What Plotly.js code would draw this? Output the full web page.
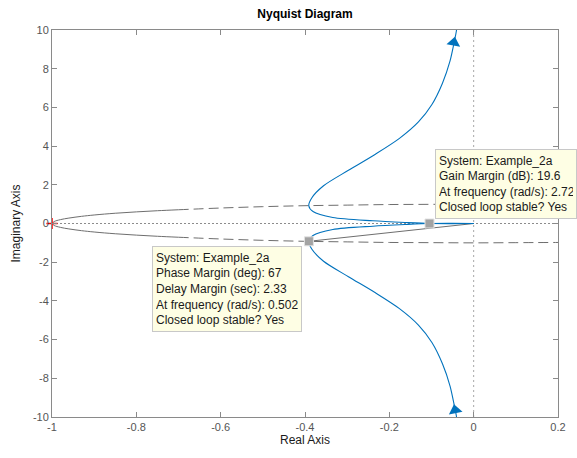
<!DOCTYPE html>
<html>
<head>
<meta charset="utf-8">
<script src="https://cdn.plot.ly/plotly-3.0.1.min.js"></script>
<style>
  html, body { margin: 0; padding: 0; background: #fff; }
  #plot { width: 577px; height: 458px; }
</style>
</head>
<body>
<div id="plot"></div>
<script>
// Open-loop response G(jw) for positive frequencies:
// starts at the bottom (w -> 0+) and ends at the origin (w -> inf).
const nyqRe = [-0.039, -0.041, -0.045, -0.056, -0.074, -0.099, -0.131, -0.176, -0.234, -0.297,
               -0.356, -0.384, -0.391, -0.381, -0.334, -0.239, -0.160, -0.105, -0.050, 0];
const nyqIm = [-10.3, -9.95, -9.5, -8.4, -7.25, -6.15, -5.25, -4.4, -3.57, -2.75,
               -1.95, -1.32, -0.92, -0.62, -0.31, -0.14, -0.05, 0, 0.006, 0];

// Direction arrows on the two branches (position and heading in degrees)
const arrowRe = [-0.047, -0.044];
const arrowIm = [9.35, -9.65];
const arrowAngle = [10, -11];

// Stability margins
const systemName = 'Example_2a';
const gainMarginDb = 19.6;
const gainFreq = 2.72;
const phaseMarginDeg = 67;
const delayMarginSec = 2.33;
const phaseFreq = 0.502;

// Unit circle, upper half (the lower half is its mirror image)
const circRe = [-1, -0.995, -0.98, -0.96, -0.93, -0.9, -0.85, -0.8, -0.75, -0.7,
                -0.6, -0.5, -0.4, -0.3, -0.2, -0.1, 0, 0.1, 0.2];
const circIm = [0, 0.10, 0.20, 0.28, 0.37, 0.44, 0.53, 0.60, 0.66, 0.71,
                0.80, 0.87, 0.92, 0.95, 0.98, 0.99, 1, 0.99, 0.98];
const circSolidEnd = -0.7;   // circle is solid up to here, dashed after

// Axis ticks
const xTicks = [-1, -0.8, -0.6, -0.4, -0.2, 0, 0.2];
const xTickText = ['-1', '-0.8', '-0.6', '-0.4', '-0.2', '0', '0.2'];
const yTicks = [-10, -8, -6, -4, -2, 0, 2, 4, 6, 8, 10];
const yTickText = ['-10', '-8', '-6', '-4', '-2', '0', '2', '4', '6', '8', '10'];

const FONT = 'Liberation Sans, Arial, Helvetica, sans-serif';
const BLUE = '#0072BD';
const GRAY = '#6e6e6e';

// Margin points from the stated margins
const gmX = -Math.pow(10, -gainMarginDb / 20);
const pmAng = (-180 + phaseMarginDeg) * Math.PI / 180;
const pmX = Math.cos(pmAng), pmY = Math.sin(pmAng);

// Split unit circle into solid and dashed parts
const solidIdx = circRe.map((v, i) => i).filter(i => circRe[i] <= circSolidEnd);
const dashIdx = circRe.map((v, i) => i).filter(i => circRe[i] >= circSolidEnd);
const pick = (arr, idx, sgn) => idx.map(i => sgn * arr[i]);

const lower = (idx) => ({ x: pick(circRe, idx, 1), y: pick(circIm, idx, -1) });
const upper = (idx) => ({ x: pick(circRe, idx, 1), y: pick(circIm, idx, 1) });

const traces = [];

// Real and imaginary axes (dotted)
traces.push({ x: [-1, 0.2], y: [0, 0], mode: 'lines',
  line: { color: '#8c8c8c', width: 1, dash: '2px,2px' }, hoverinfo: 'skip' });
traces.push({ x: [0, 0], y: [-10, 10], mode: 'lines',
  line: { color: '#a8a8a8', width: 1, dash: '2px,3px' }, hoverinfo: 'skip' });

// Unit circle
[upper(solidIdx), lower(solidIdx)].forEach(p => traces.push({
  x: p.x, y: p.y, mode: 'lines', line: { color: GRAY, width: 1, shape: 'spline' }, hoverinfo: 'skip' }));
[upper(dashIdx), lower(dashIdx)].forEach(p => traces.push({
  x: p.x, y: p.y, mode: 'lines', line: { color: GRAY, width: 1, shape: 'spline', dash: '10px,5px' }, hoverinfo: 'skip' }));

// Phase margin line from the origin
traces.push({ x: [0, pmX], y: [0, pmY], mode: 'lines',
  line: { color: GRAY, width: 1 }, hoverinfo: 'skip' });

// Nyquist curve: positive and negative frequencies
traces.push({ x: nyqRe, y: nyqIm, mode: 'lines',
  line: { color: BLUE, width: 1.1, shape: 'spline', smoothing: 0.8 } });
traces.push({ x: nyqRe.slice(), y: nyqIm.map(v => -v), mode: 'lines',
  line: { color: BLUE, width: 1.1, shape: 'spline', smoothing: 0.8 } });

// Direction arrows
traces.push({ x: arrowRe, y: arrowIm, mode: 'markers', cliponaxis: false,
  marker: { symbol: 'triangle-up', size: 12, color: BLUE, angle: arrowAngle, line: { width: 0 } } });

// Critical point
traces.push({ x: [-1], y: [0], mode: 'markers', cliponaxis: false,
  marker: { symbol: 'cross-thin', size: 8, line: { color: '#ff0000', width: 1.5 } } });

// Margin markers
traces.push({ x: [gmX, pmX], y: [0, pmY], mode: 'markers',
  marker: { symbol: 'square', size: 9, color: '#a3a3a3', line: { color: '#e2e2e2', width: 1 } } });

const gmText = 'System: ' + systemName +
  '<br>Gain Margin (dB): ' + gainMarginDb +
  '<br>At frequency (rad/s): ' + gainFreq +
  '<br>Closed loop stable? Yes';
const pmText = 'System: ' + systemName +
  '<br>Phase Margin (deg): ' + phaseMarginDeg +
  '<br>Delay Margin (sec): ' + delayMarginSec +
  '<br>At frequency (rad/s): ' + phaseFreq +
  '<br>Closed loop stable? Yes';

const tipStyle = {
  showarrow: false, align: 'left', bgcolor: '#fefee4', bordercolor: '#c8c8c8',
  borderwidth: 1, borderpad: 3, font: { family: FONT, size: 12, color: '#1a1a1a' }
};

const axisCommon = {
  showgrid: false, zeroline: false, showline: true, mirror: 'allticks',
  linecolor: '#8a8a8a', linewidth: 1, ticks: 'inside', ticklen: 5,
  tickcolor: '#8a8a8a', tickwidth: 1,
  tickfont: { family: FONT, size: 11, color: '#555' }, tickmode: 'array'
};

const layout = {
  width: 577, height: 458,
  margin: { l: 52, r: 19, t: 30, b: 41 },
  paper_bgcolor: '#fff', plot_bgcolor: '#fff',
  showlegend: false, hovermode: false,
  font: { family: FONT },
  title: { text: '<b>Nyquist Diagram</b>', font: { family: FONT, size: 12, color: '#000' },
           x: 0.5, xref: 'paper', xanchor: 'center', y: 1 - 14 / 458, yref: 'container', yanchor: 'middle' },
  xaxis: Object.assign({}, axisCommon, {
    range: [-1, 0.2], tickvals: xTicks, ticktext: xTickText,
    title: { text: 'Real Axis', font: { family: FONT, size: 12, color: '#1a1a1a' }, standoff: 3 }
  }),
  yaxis: Object.assign({}, axisCommon, {
    range: [-10, 10], tickvals: yTicks, ticktext: yTickText,
    title: { text: 'Imaginary Axis', font: { family: FONT, size: 12, color: '#1a1a1a' }, standoff: 9 }
  }),
  annotations: [
    Object.assign({}, tipStyle, { text: gmText, x: gmX, y: 0, xref: 'x', yref: 'y',
      xanchor: 'left', yanchor: 'bottom', xshift: 5, yshift: 5, width: 134, height: 62 }),
    Object.assign({}, tipStyle, { text: pmText, x: pmX, y: pmY, xref: 'x', yref: 'y',
      xanchor: 'right', yanchor: 'top', xshift: -7, yshift: -5, width: 142, height: 78 })
  ]
};

Plotly.newPlot('plot', traces, layout, { displayModeBar: false, staticPlot: true });
</script>
</body>
</html>
